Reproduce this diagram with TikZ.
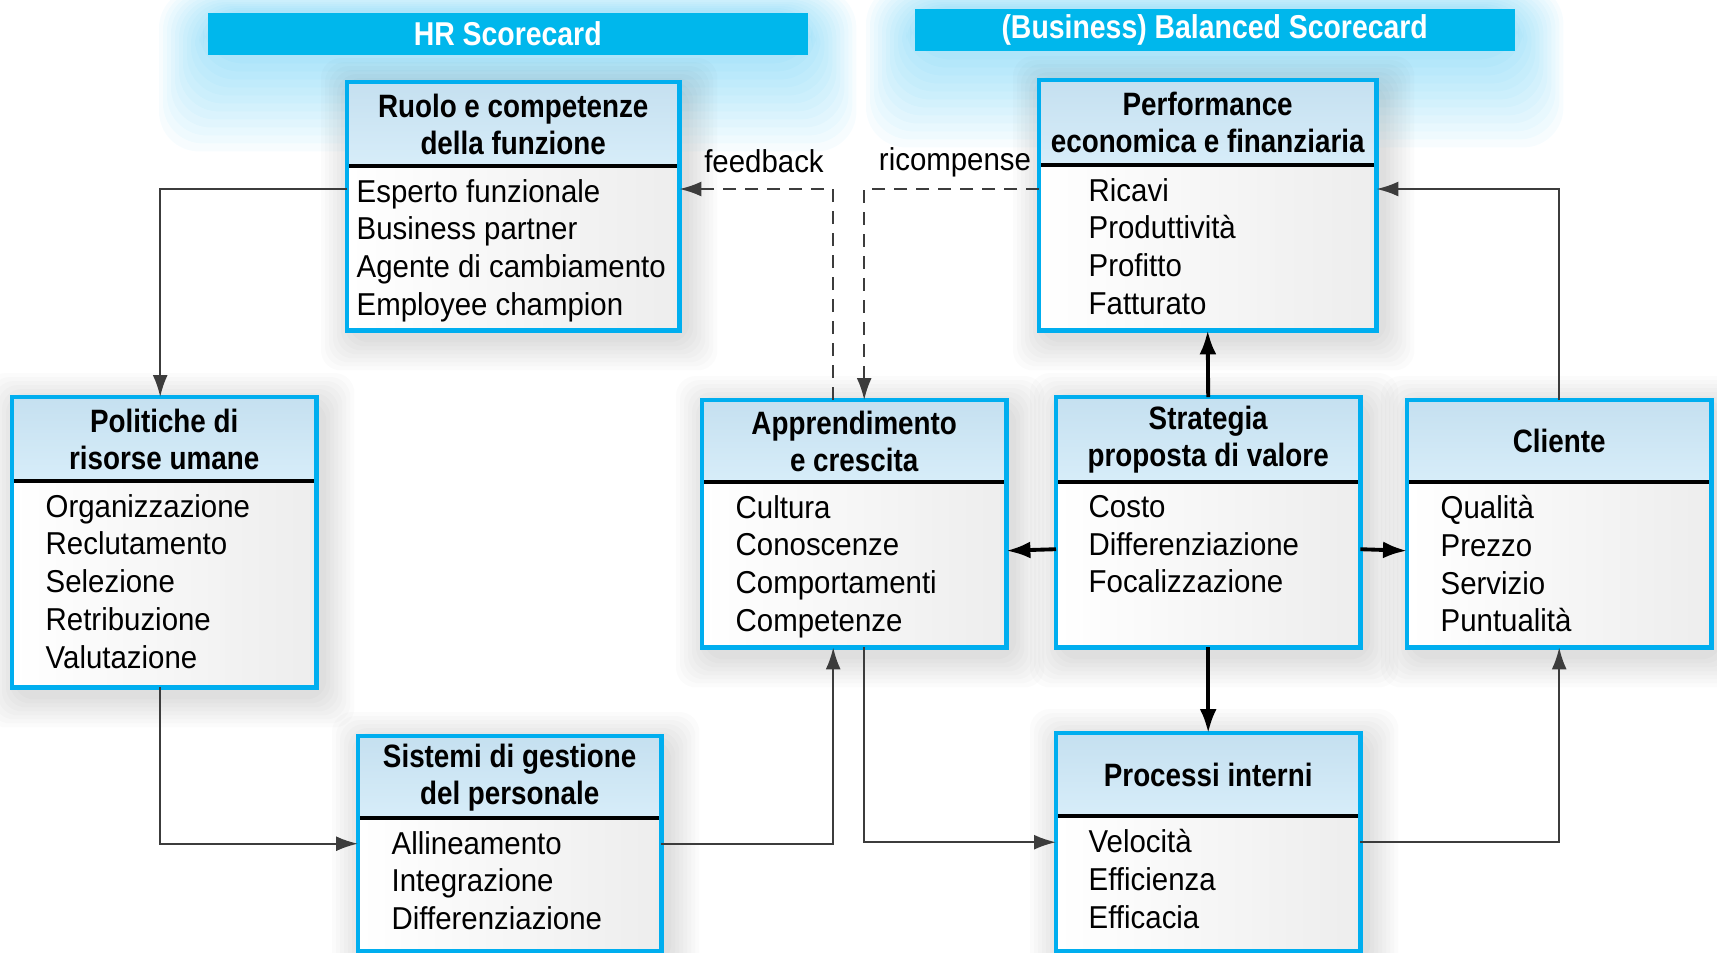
\documentclass[tikz,border=0pt]{standalone}
\usepackage{fontspec}
\setmainfont{Liberation Sans}[FakeStretch=0.93]
\newfontfamily\hdfont{Liberation Sans}[FakeStretch=0.86]
\usepackage{tikz}
\usetikzlibrary{arrows.meta}
\usetikzlibrary{positioning, backgrounds}

\definecolor{bsccyan}{RGB}{0,174,239}
\definecolor{bscbanner}{RGB}{0,183,236}
\definecolor{hdtop}{RGB}{197,224,240}
\definecolor{hdbot}{RGB}{215,237,249}
\definecolor{lnk}{RGB}{60,60,60}

% name, x, y, width, height, header height, text inset, title, items
\newcommand{\scbox}[9]{%
	\node[body, minimum width=#4mm, minimum height=#5mm] (#1) at (#2,#3) {};
	\node[head, minimum width=#4mm, minimum height=#6mm] (#1-h) at (#1.north) {#8};
	\draw[divider] (#1-h.south west) -- (#1-h.south east);
	\node[items] (#1-l) at ([xshift=#7mm, yshift=-1.2mm]#1-h.south west) {#9};
	\draw[frame] (#1.north west) rectangle (#1.south east);
	\begin{pgfonlayer}{background}
		\foreach \g in {1,...,8}
			\fill[black, opacity=0.014, rounded corners=2mm]
				([shift={(-\g*0.4mm+0.6mm, \g*0.4mm-0.8mm)}]#1.north west) rectangle
				([shift={(\g*0.4mm+0.6mm, -\g*0.4mm-0.8mm)}]#1.south east);
	\end{pgfonlayer}
}

\begin{document}
\begin{tikzpicture}[x=1mm, y=-1mm]
	\tikzstyle{body}=[anchor=north west, inner sep=0, left color=white, right color=black!7]
	\tikzstyle{head}=[anchor=north, inner sep=0, top color=hdtop, bottom color=hdbot, align=center, font=\hdfont\bfseries\fontsize{9.2}{10.5}\selectfont]
	\tikzstyle{divider}=[line width=1.1pt]
	\tikzstyle{items}=[anchor=north west, inner sep=0, align=left, font=\fontsize{9}{10.76}\selectfont]
	\tikzstyle{frame}=[draw=bsccyan, line width=1.3pt]
	\tikzstyle{banner}=[anchor=north west, inner sep=0, fill=bscbanner, text=white, font=\hdfont\bfseries\fontsize{9.4}{10.5}\selectfont]
	\tikzstyle{lbl}=[inner sep=0, font=\fontsize{9}{10.76}\selectfont]
	\tikzstyle{link}=[draw=lnk, line width=0.6pt, -{Latex[length=2.2mm,width=1.5mm]}]
	\tikzstyle{main}=[draw=black, line width=1.1pt, -{Latex[length=2.4mm,width=1.7mm]}]
	\tikzstyle{back}=[link, dash pattern=on 1.3mm off 0.9mm]
	\useasboundingbox (0,0) rectangle (171.7,95.2);

	\node[banner, minimum width=60mm, minimum height=4.2mm] (hr) at (20.7,1.2) {HR Scorecard};
	\node[banner, minimum width=60mm, minimum height=4.2mm] (bsc) at (91.4,0.8) {(Business) Balanced Scorecard};
	\begin{pgfonlayer}{background}
		\foreach \g in {1,...,12} {
			\fill[bsccyan, opacity=0.03, rounded corners=4mm]
				([shift={(-\g*0.4mm, \g*0.2mm)}]hr.north west) rectangle ([shift={(\g*0.4mm, -\g*0.8mm)}]hr.south east);
			\fill[bsccyan, opacity=0.03, rounded corners=4mm]
				([shift={(-\g*0.4mm, \g*0.2mm)}]bsc.north west) rectangle ([shift={(\g*0.4mm, -\g*0.8mm)}]bsc.south east);
		}
	\end{pgfonlayer}

	\scbox{ruolo}{34.7}{8.2}{33.1}{24.7}{8.3}{0.9}{Ruolo e competenze\\della funzione}{Esperto funzionale\\Business partner\\Agente di cambiamento\\Employee champion}
	\scbox{perf}{103.9}{8.0}{33.6}{24.9}{8.4}{4.9}{Performance\\economica e finanziaria}{Ricavi\\Produttività\\Profitto\\Fatturato}
	\scbox{polit}{1.2}{39.7}{30.3}{28.9}{8.3}{3.3}{Politiche di\\risorse umane}{Organizzazione\\Reclutamento\\Selezione\\Retribuzione\\Valutazione}
	\scbox{appr}{70.2}{40.0}{30.3}{24.6}{8.1}{3.3}{Apprendimento\\e crescita}{Cultura\\Conoscenze\\Comportamenti\\Competenze}
	\scbox{strat}{105.6}{39.7}{30.3}{24.9}{8.4}{3.2}{Strategia\\proposta di valore}{Costo\\Differenziazione\\Focalizzazione}
	\scbox{cliente}{140.7}{40.0}{30.3}{24.6}{8.1}{3.3}{Cliente}{Qualità\\Prezzo\\Servizio\\Puntualità}
	\scbox{sistemi}{35.8}{73.6}{30.2}{21.4}{8.1}{3.3}{Sistemi di gestione\\del personale}{Allineamento\\Integrazione\\Differenziazione}
	\scbox{proc}{105.6}{73.3}{30.3}{21.7}{8.2}{3.2}{Processi interni}{Velocità\\Efficienza\\Efficacia}

	\node[lbl] (fb) at (76.4,16.1) {feedback};
	\node[lbl] (rc) at (95.5,16.2) {ricompense};

	\coordinate (top) at (0,18.9);
	\draw[link] (ruolo.west |- top) -| ([xshift=-0.4mm]polit.north);
	\draw[link] ([xshift=-0.4mm]polit.south) |- (sistemi.west);
	\draw[link] (sistemi.east) -| ([xshift=-2.1mm]appr.south);
	\draw[link] ([xshift=1mm]appr.south) |- (proc.west);
	\draw[link] (cliente.north) |- (perf.east |- top);
	\draw[link] (proc.east) -| (cliente.south);
	\draw[main] (strat.north) -- (perf.south);
	\draw[main] (strat.south) -- (proc.north);
	\draw[main] ([yshift=-2.7mm]strat.west) -- ([yshift=-2.7mm]appr.east);
	\draw[main] ([yshift=-2.7mm]strat.east) -- ([yshift=-2.7mm]cliente.west);
	\draw[back] ([xshift=-2.1mm]appr.north) |- (ruolo.east |- top);
	\draw[back] (perf.west |- top) -| ([xshift=1mm]appr.north);
\end{tikzpicture}
\end{document}
